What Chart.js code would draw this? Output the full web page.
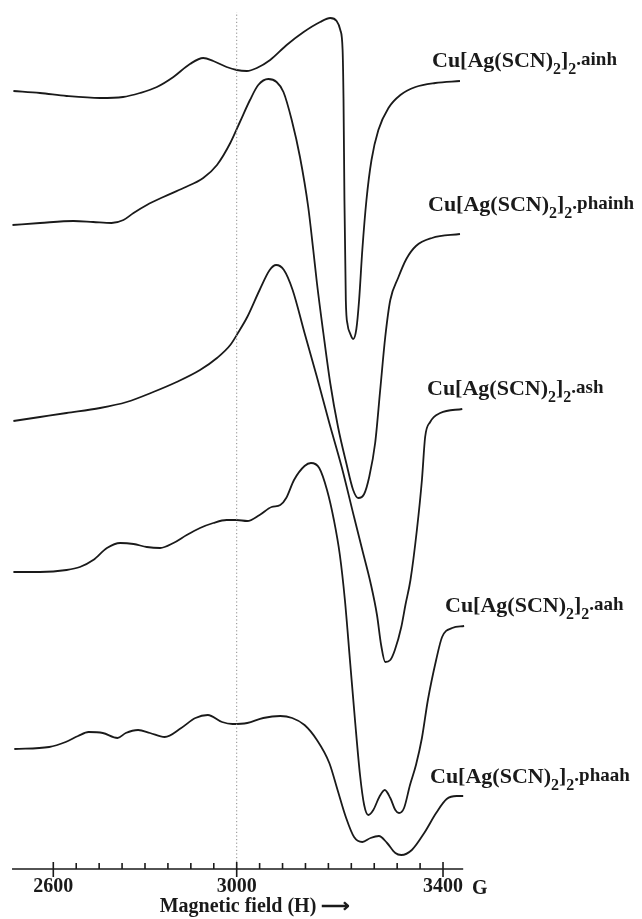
<!DOCTYPE html>
<html><head><meta charset="utf-8">
<script src="https://cdn.jsdelivr.net/npm/chart.js@4.4.1/dist/chart.umd.min.js"></script>
<style>html,body{margin:0;padding:0;background:#fff;} canvas{display:block;}</style>
</head><body>
<canvas id="c" width="642" height="919"></canvas>
<script>
// ---------------- data ----------------
const SERIES_NAMES = ['ainh', 'phainh', 'ash', 'aah', 'phaah'];

// Magnetic field (G) and stacked EPR signal (arbitrary units) for each complex
const AINH_FIELD  = [2513, 2571, 2629, 2702, 2752, 2789, 2826, 2862, 2898, 2927, 2949, 2978, 3000, 3022, 3044, 3073, 3109, 3146, 3182, 3204, 3218, 3226, 3231, 3233, 3235, 3238, 3242, 3247, 3254, 3261, 3267, 3274, 3283, 3294, 3309, 3331, 3357, 3390, 3433, 3487];
const AINH_SIGNAL = [778, 776, 773, 771, 772, 776, 782, 792, 805, 811, 808, 802, 799, 798, 801, 809, 824, 837, 847, 851, 848, 839, 819, 769, 669, 569, 544, 536, 530, 540, 569, 619, 669, 709, 739, 761, 774, 782, 786, 788];

const PHAINH_FIELD  = [2511, 2571, 2644, 2687, 2727, 2753, 2775, 2804, 2840, 2884, 2927, 2957, 2986, 3007, 3029, 3047, 3069, 3087, 3102, 3120, 3138, 3156, 3167, 3175, 3189, 3204, 3221, 3239, 3254, 3265, 3278, 3289, 3302, 3313, 3324, 3335, 3352, 3370, 3391, 3426, 3487];
const PHAINH_SIGNAL = [644, 646, 648, 647, 646, 649, 656, 664, 672, 681, 691, 704, 726, 747, 769, 784, 790, 787, 777, 749, 712, 662, 619, 586, 536, 486, 442, 406, 379, 371, 375, 392, 426, 479, 532, 569, 591, 610, 623, 631, 635];

const ASH_FIELD  = [2513, 2571, 2629, 2702, 2760, 2818, 2869, 2920, 2957, 2986, 3004, 3023, 3050, 3072, 3086, 3103, 3122, 3148, 3175, 3202, 3229, 3256, 3274, 3292, 3306, 3315, 3324, 3335, 3345, 3359, 3368, 3379, 3393, 3404, 3411, 3422, 3444, 3492];
const ASH_SIGNAL = [448, 452, 456, 461, 467, 477, 487, 499, 511, 524, 537, 552, 579, 599, 604, 599, 579, 536, 492, 446, 402, 352, 319, 286, 254, 224, 207, 209, 219, 242, 264, 289, 339, 389, 432, 447, 456, 460];

const AAH_FIELD  = [2513, 2571, 2629, 2658, 2687, 2717, 2746, 2775, 2804, 2833, 2862, 2891, 2920, 2949, 2978, 3000, 3023, 3050, 3076, 3095, 3108, 3125, 3148, 3162, 3180, 3197, 3212, 3225, 3236, 3247, 3258, 3269, 3278, 3287, 3298, 3311, 3323, 3335, 3346, 3354, 3365, 3378, 3391, 3404, 3417, 3435, 3448, 3470, 3496];
const AAH_SIGNAL = [297, 297, 299, 302, 309, 321, 326, 325, 322, 321, 326, 334, 341, 346, 349, 349, 348, 354, 362, 364, 371, 389, 403, 406, 401, 379, 349, 314, 269, 209, 149, 94, 64, 54, 59, 72, 79, 71, 59, 56, 61, 84, 104, 131, 169, 209, 232, 241, 243];

const PHAAH_FIELD  = [2515, 2591, 2627, 2654, 2677, 2708, 2740, 2758, 2785, 2811, 2843, 2879, 2910, 2937, 2968, 2991, 3023, 3058, 3095, 3121, 3148, 3175, 3202, 3220, 3238, 3256, 3274, 3292, 3310, 3328, 3346, 3359, 3382, 3409, 3435, 3458, 3480, 3494];
const PHAAH_SIGNAL = [120, 122, 127, 133, 137, 136, 131, 136, 139, 136, 132, 141, 151, 154, 147, 145, 146, 151, 153, 151, 144, 129, 106, 79, 52, 32, 27, 31, 33, 26, 16, 14, 19, 36, 56, 70, 73, 73];

// axis ticks as drawn in the figure (one tick every 50 G)
const TICK_VALUES = [2600, 2650, 2700, 2750, 2800, 2850, 2900, 2950, 3000, 3050, 3100, 3150, 3200, 3250, 3300, 3350, 3400, 3450];
const TICK_LABELS = ['2600', '', '', '', '', '', '', '', '3000', '', '', '', '', '', '', '', '', '3400'];
const AXIS_EXTENT = [2510, 3494];
const REFERENCE_FIELD = 3000;
const REFERENCE_SPAN = [0, 857];
const AXIS_TITLE = 'Magnetic field (H) \u27F6';
const AXIS_UNIT = 'G';

// ---------------- styles ----------------
const INK = '#1a1a1a';
const SERIF = '"Liberation Serif", "Times New Roman", serif';
const LABEL_ANCHORS = [[432, 67], [428, 211], [427, 395], [445, 612], [430, 783]];

function pts(f, s) { return f.map((x, i) => ({ x: x, y: s[i] })); }

const SERIES = [
  [AINH_FIELD, AINH_SIGNAL], [PHAINH_FIELD, PHAINH_SIGNAL], [ASH_FIELD, ASH_SIGNAL],
  [AAH_FIELD, AAH_SIGNAL], [PHAAH_FIELD, PHAAH_SIGNAL]
];

function drawLabel(ctx, x, y, suffix) {
  const parts = [
    ['Cu[Ag(SCN)', 'bold 22px ' + SERIF, 0],
    ['2', 'bold 16px ' + SERIF, 7],
    [']', 'bold 22px ' + SERIF, 0],
    ['2', 'bold 16px ' + SERIF, 7],
    ['.' + suffix, 'bold 19px ' + SERIF, -2]
  ];
  let cx = x;
  parts.forEach(p => {
    ctx.font = p[1];
    ctx.fillText(p[0], cx, y + p[2]);
    cx += ctx.measureText(p[0]).width;
  });
}

const overlay = {
  id: 'overlay',
  afterDraw(chart) {
    const ctx = chart.ctx;
    const xs = chart.scales.x;
    const y0 = chart.chartArea.bottom;
    ctx.save();
    ctx.strokeStyle = INK;
    ctx.lineWidth = 1.6;
    ctx.beginPath();
    ctx.moveTo(xs.getPixelForValue(AXIS_EXTENT[0]), y0);
    ctx.lineTo(xs.getPixelForValue(AXIS_EXTENT[1]), y0);
    ctx.stroke();
    TICK_VALUES.forEach((v, i) => {
      const px = xs.getPixelForValue(v);
      const major = TICK_LABELS[i] !== '';
      ctx.beginPath();
      ctx.moveTo(px, y0 - (major ? 7 : 6));
      ctx.lineTo(px, y0 + (major ? 8 : 0));
      ctx.stroke();
    });
    ctx.fillStyle = INK;
    ctx.textAlign = 'left';
    ctx.textBaseline = 'alphabetic';
    ctx.font = 'bold 20px ' + SERIF;
    ctx.fillText(AXIS_UNIT, xs.getPixelForValue(TICK_VALUES[TICK_VALUES.length - 1]) + 29, 894);
    SERIES_NAMES.forEach((n, i) => drawLabel(ctx, LABEL_ANCHORS[i][0], LABEL_ANCHORS[i][1], n));
    ctx.restore();
  }
};

const datasets = [{
  data: [{ x: REFERENCE_FIELD, y: REFERENCE_SPAN[0] }, { x: REFERENCE_FIELD, y: REFERENCE_SPAN[1] }],
  borderColor: '#8a8a8a', borderWidth: 1, borderDash: [1.2, 2.4],
  tension: 0, cubicInterpolationMode: 'default'
}].concat(SERIES.map((s, i) => ({
  label: SERIES_NAMES[i],
  data: pts(s[0], s[1]),
  borderColor: INK, borderWidth: 1.8,
  cubicInterpolationMode: 'monotone'
})));

new Chart(document.getElementById('c'), {
  type: 'line',
  data: { datasets: datasets },
  options: {
    responsive: false, animation: false, devicePixelRatio: 1,
    layout: { padding: { left: 0, right: 132, top: 0, bottom: 0 } },
    plugins: { legend: { display: false }, tooltip: { enabled: false } },
    elements: { point: { radius: 0 } },
    scales: {
      x: {
        type: 'linear', min: 2483.75, max: 3596.1,
        afterBuildTicks: s => { s.ticks = TICK_VALUES.map(v => ({ value: v })); },
        afterFit: s => { s.height = 50; },
        grid: { display: false, drawTicks: false },
        border: { display: false },
        ticks: {
          autoSkip: false, maxRotation: 0, minRotation: 0, padding: 6, color: INK,
          font: { family: SERIF, size: 20, weight: 'bold' },
          callback: (v, i) => TICK_LABELS[i]
        },
        title: {
          display: true, text: AXIS_TITLE, color: INK,
          font: { family: SERIF, size: 20, weight: 'bold' },
          padding: { top: 0, bottom: 0 }
        }
      },
      y: { type: 'linear', display: false, min: 0, max: 869 }
    }
  },
  plugins: [overlay]
});
</script>
</body></html>
